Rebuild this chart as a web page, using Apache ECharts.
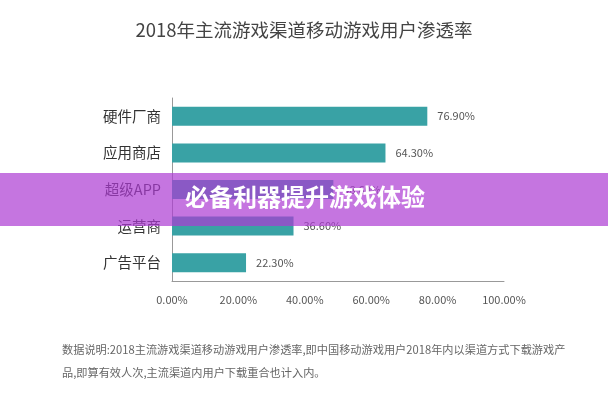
<!DOCTYPE html>
<html>
<head>
<meta charset="utf-8">
<script src="https://cdn.jsdelivr.net/npm/echarts@6/dist/echarts.min.js"></script>
<style>
  html, body { margin: 0; padding: 0; background: #fff; }
</style>
</head>
<body>
<div id="chart-container" style="width: 608px; height: 400px"></div>
<script>
const categories = ["硬件厂商", "应用商店", "超级APP", "运营商", "广告平台"];
const rates = [76.9, 64.3, 48.6, 36.6, 22.3];
const noteLines = [
  "数据说明:2018主流游戏渠道移动游戏用户渗透率,即中国移动游戏用户2018年内以渠道方式下载游戏产",
  "品,即算有效人次,主流渠道内用户下载重合也计入内。"
];
const bannerText = "必备利器提升游戏体验";

const font = '"Noto Sans CJK SC", "Noto Sans", sans-serif';

let myChart = echarts.init(document.getElementById("chart-container"));
myChart.setOption({
  textStyle: { fontFamily: font },
  title: {
    text: "2018年主流游戏渠道移动游戏用户渗透率",
    left: "center",
    top: 16,
    textStyle: { fontSize: 18.5, fontWeight: "normal", color: "#444", fontFamily: font },
  },
  grid: { left: 172, right: 104, top: 98, bottom: 119 },
  xAxis: {
    type: "value",
    min: 0,
    max: 100,
    interval: 20,
    axisLine: { show: true, lineStyle: { color: "#999" } },
    axisTick: { show: false },
    splitLine: { show: false },
    axisLabel: {
      margin: 13,
      fontSize: 11,
      color: "#555",
      formatter: (v) => v.toFixed(2) + "%",
    },
  },
  yAxis: {
    type: "category",
    inverse: true,
    data: categories,
    axisLine: { show: true, lineStyle: { color: "#999" } },
    axisTick: { show: false },
    axisLabel: { fontSize: 14.5, color: "#333", margin: 11 },
  },
  series: [
    {
      type: "bar",
      data: rates,
      barWidth: 19,
      itemStyle: { color: "#39a2a5" },
      label: {
        show: true,
        position: "right",
        distance: 10,
        fontSize: 11,
        color: "#555",
        formatter: (p) => p.value.toFixed(2) + "%",
      },
    },
  ],
  graphic: [
    {
      type: "text",
      left: 62,
      top: 344,
      style: { text: noteLines[0], fontSize: 11.2, fill: "#666", fontFamily: font },
    },
    {
      type: "text",
      left: 62,
      top: 367,
      style: { text: noteLines[1], fontSize: 11.2, fill: "#666", fontFamily: font },
    },
    {
      type: "rect",
      z: 100,
      shape: { x: 0, y: 173, width: 608, height: 53 },
      style: { fill: "rgba(172, 58, 211, 0.7)" },
    },
    {
      type: "text",
      z: 101,
      left: 185,
      top: 185,
      style: {
        text: bannerText,
        fontSize: 24,
        fontWeight: "bold",
        fill: "#fff",
        fontFamily: font,
        shadowColor: "rgba(0,0,0,0.25)",
        shadowBlur: 2,
      },
    },
  ],
});
</script>
</body>
</html>
